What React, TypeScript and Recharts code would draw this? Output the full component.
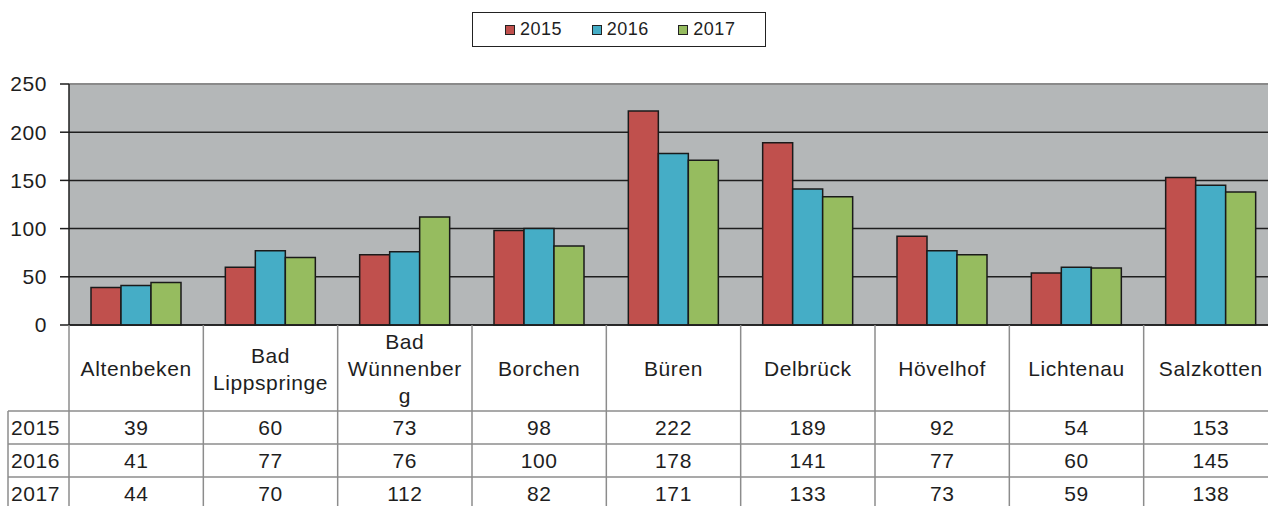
import { BarChart, Bar, XAxis, YAxis, CartesianGrid, Legend, ReferenceLine } from "recharts";

const categories = ["Altenbeken", "Bad Lippspringe", "Bad Wünnenberg", "Borchen", "Büren", "Delbrück", "Hövelhof", "Lichtenau", "Salzkotten"];
// the way the labels wrap inside the table cells
const labelLines = [["Altenbeken"], ["Bad", "Lippspringe"], ["Bad", "Wünnenber", "g"], ["Borchen"], ["Büren"], ["Delbrück"], ["Hövelhof"], ["Lichtenau"], ["Salzkotten"]];
const years = ["2015", "2016", "2017"];
const values2015 = [39, 60, 73, 98, 222, 189, 92, 54, 153];
const values2016 = [41, 77, 76, 100, 178, 141, 77, 60, 145];
const values2017 = [44, 70, 112, 82, 171, 133, 73, 59, 138];
const yTicks = [0, 50, 100, 150, 200, 250];

const series = [values2015, values2016, values2017];
const colors = ["#C0504D", "#45ADC6", "#96BC5F"];

const data = categories.map((name, i) => ({
  name,
  v2015: values2015[i],
  v2016: values2016[i],
  v2017: values2017[i],
}));

const FONT = "'Liberation Sans', Arial, sans-serif";
const CHART_W = 1278;
const CHART_H = 506;
const Y_W = 69;
const TOP = 84;
const BAND = (CHART_W - Y_W) / categories.length;
const HEADER_H = 86;
const ROW_H = 33;
const LINE_H = 27;
const TABLE_LINE = "#8c8c8c";
const TEXT = "#1e1e1e";

function TableTick(props: any) {
  const { x, y, index } = props;
  const left = x - BAND / 2;
  const right = x + BAND / 2;
  const lines = labelLines[index];
  const rowTops = [HEADER_H, HEADER_H + ROW_H, HEADER_H + 2 * ROW_H];
  const txt = { fontFamily: FONT, fontSize: 21, fill: TEXT, letterSpacing: "0.6px" };
  return (
    <g>
      <line x1={left} y1={y} x2={left} y2={CHART_H} stroke={TABLE_LINE} strokeWidth={1.5} />
      {rowTops.map((t) => (
        <line key={t} x1={left} x2={right} y1={y + t} y2={y + t} stroke={TABLE_LINE} strokeWidth={1.5} />
      ))}
      {lines.map((l, k) => (
        <text key={k} x={x} y={y + 43.5 + (k - (lines.length - 1) / 2) * LINE_H} textAnchor="middle" dominantBaseline="central" {...txt}>
          {l}
        </text>
      ))}
      {series.map((s, r) => (
        <text key={r} x={x} y={y + HEADER_H + ROW_H * r + ROW_H / 2} textAnchor="middle" dominantBaseline="central" {...txt}>
          {s[index]}
        </text>
      ))}
      {index === 0 && (
        <g>
          <line x1={8} x2={8} y1={y + HEADER_H} y2={CHART_H} stroke={TABLE_LINE} strokeWidth={1.5} />
          {rowTops.map((t) => (
            <line key={t} x1={8} x2={left} y1={y + t} y2={y + t} stroke={TABLE_LINE} strokeWidth={1.5} />
          ))}
          {years.map((yr, r) => (
            <text key={yr} x={11} y={y + HEADER_H + ROW_H * r + ROW_H / 2} dominantBaseline="central" {...txt}>
              {yr}
            </text>
          ))}
        </g>
      )}
    </g>
  );
}

function LegendBox(props: any) {
  const { payload } = props;
  return (
    <div
      style={{
        boxSizing: "border-box",
        width: 294,
        height: 35,
        border: "1.5px solid #222",
        background: "#fff",
        display: "flex",
        alignItems: "center",
        paddingLeft: 32,
        fontFamily: FONT,
        fontSize: 18,
        color: TEXT,
        letterSpacing: "0.5px",
      }}
    >
      {(payload || []).map((p: any) => (
        <div key={p.value} style={{ width: 88.5, display: "flex", alignItems: "center" }}>
          <span style={{ display: "inline-block", width: 8, height: 8, background: p.color, border: "1px solid #222", marginRight: 5 }} />
          <span>{p.value}</span>
        </div>
      ))}
    </div>
  );
}

export default function App() {
  return (
    <div style={{ position: "absolute", left: 0, top: 0, width: 1268, height: 506, overflow: "hidden", background: "#fff" }}>
      <BarChart
        width={CHART_W}
        height={CHART_H}
        data={data}
        margin={{ top: TOP, right: 0, left: 0, bottom: 0 }}
        barGap={0}
        barSize={30}
      >
        <CartesianGrid vertical={false} stroke="#1e1e1e" strokeWidth={1.5} fill="#B4B7B8" fillOpacity={1} />
        <ReferenceLine y={250} stroke="#8a8a8a" strokeWidth={2} />
        <XAxis
          dataKey="name"
          interval={0}
          height={CHART_H - 325}
          tickSize={0}
          tickMargin={0}
          tickLine={false}
          axisLine={{ stroke: "#1e1e1e", strokeWidth: 1.5 }}
          tick={<TableTick />}
        />
        <YAxis
          width={Y_W}
          domain={[0, 250]}
          ticks={yTicks}
          interval={0}
          tickSize={9}
          tickMargin={13}
          axisLine={{ stroke: "#1e1e1e", strokeWidth: 1.5 }}
          tickLine={{ stroke: "#1e1e1e", strokeWidth: 1.5 }}
          tick={{ fontFamily: FONT, fontSize: 21, fill: TEXT, letterSpacing: "0.6px" }}
        />
        <Legend
          layout="horizontal"
          verticalAlign="middle"
          align="center"
          wrapperStyle={{ left: 472, top: 12, width: 294, height: 35 }}
          content={<LegendBox />}
        />
        {years.map((yr, i) => (
          <Bar
            key={yr}
            dataKey={"v" + yr}
            name={yr}
            fill={colors[i]}
            stroke="#1a1a1a"
            strokeWidth={1.5}
            isAnimationActive={false}
          />
        ))}
      </BarChart>
    </div>
  );
}
